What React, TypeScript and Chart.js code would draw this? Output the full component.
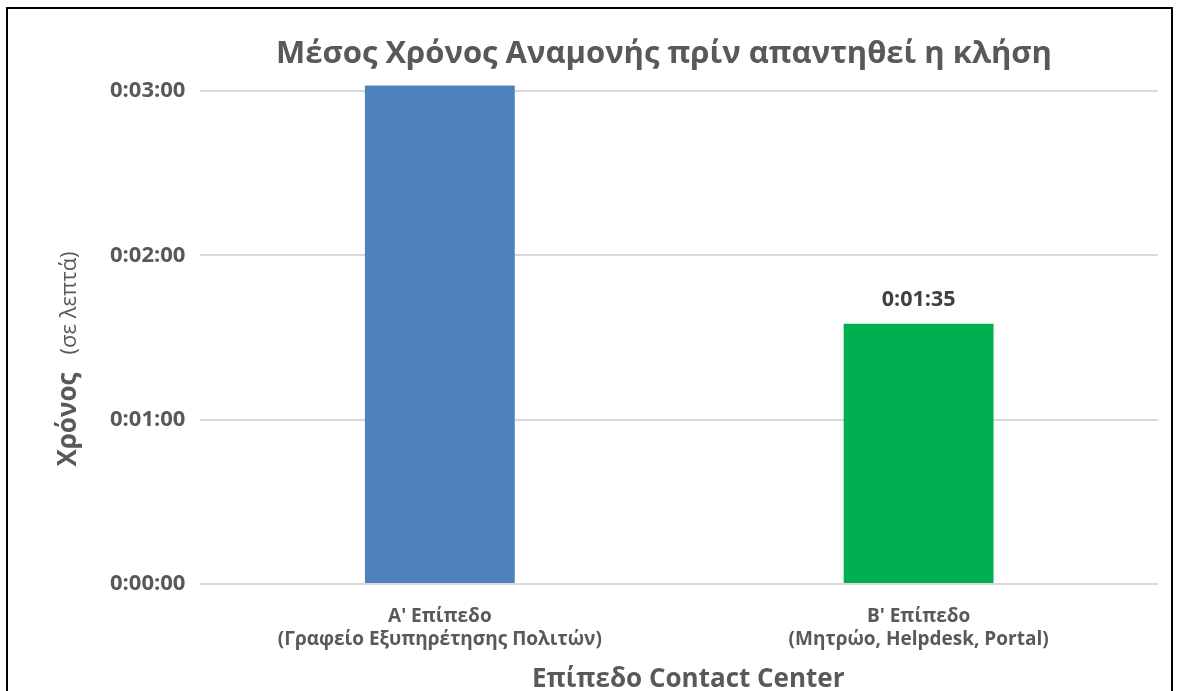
import React, { useEffect, useRef } from "react";
import { Chart, registerables } from "chart.js";

Chart.register(...registerables);

// ---- data ----
const categories: string[][] = [
  ["A' Επίπεδο", "(Γραφείο Εξυπηρέτησης Πολιτών)"],
  ["B' Επίπεδο", "(Μητρώο, Helpdesk, Portal)"],
];
const waitSeconds: number[] = [182, 95];
const barColors: string[] = ["#4F81BD", "#00B050"];
const yTickValues: number[] = [0, 60, 120, 180];
const chartTitle = "Μέσος Χρόνος Αναμονής πρίν απαντηθεί η κλήση";
const xAxisTitle = "Επίπεδο Contact Center";
const yAxisTitleMain = "Χρόνος";
const yAxisTitleSub = "(σε λεπτά)";

const FONT = "'Open Sans', sans-serif";
const TEXT = "#595959";

function fmt(sec: number): string {
  const h = Math.floor(sec / 3600);
  const m = Math.floor((sec % 3600) / 60);
  const s = Math.round(sec % 60);
  return `${h}:${String(m).padStart(2, "0")}:${String(s).padStart(2, "0")}`;
}

const decorPlugin = {
  id: "decor",
  beforeDraw(chart: any) {
    const ctx = chart.ctx;
    ctx.save();
    ctx.fillStyle = "#ffffff";
    ctx.fillRect(0, 0, chart.width, chart.height);
    ctx.restore();
  },
  afterDraw(chart: any) {
    const ctx = chart.ctx;
    const area = chart.chartArea;
    ctx.save();
    // border
    ctx.strokeStyle = "#000000";
    ctx.lineWidth = 2;
    ctx.strokeRect(7, 8, 1165, 720);
    // title
    ctx.fillStyle = TEXT;
    ctx.font = `bold 31px ${FONT}`;
    ctx.textAlign = "center";
    ctx.textBaseline = "alphabetic";
    ctx.fillText(chartTitle, 664, 63);
    // x axis title
    ctx.font = `bold 26px ${FONT}`;
    ctx.textBaseline = "alphabetic";
    ctx.fillText(xAxisTitle, (area.left + area.right) / 2 + 9, 687);
    // y title (rotated, mixed fonts)
    const mainFont = `bold 26px ${FONT}`;
    const subFont = `normal 22px ${FONT}`;
    ctx.font = mainFont;
    const w1 = ctx.measureText(yAxisTitleMain).width;
    ctx.font = subFont;
    const w2 = ctx.measureText(yAxisTitleSub).width;
    const gap = 18;
    const total = w1 + gap + w2;
    const cy = 359;
    ctx.translate(69, cy);
    ctx.rotate(-Math.PI / 2);
    ctx.textAlign = "left";
    ctx.textBaseline = "middle";
    ctx.font = mainFont;
    ctx.fillText(yAxisTitleMain, -total / 2, 0);
    ctx.font = subFont;
    ctx.fillText(yAxisTitleSub, -total / 2 + w1 + gap, 1);
    ctx.restore();
  },
  afterDatasetsDraw(chart: any) {
    const ctx = chart.ctx;
    const meta = chart.getDatasetMeta(0);
    const area = chart.chartArea;
    ctx.save();
    ctx.fillStyle = "#404040";
    ctx.font = `bold 21.5px ${FONT}`;
    ctx.textAlign = "center";
    ctx.textBaseline = "alphabetic";
    meta.data.forEach((bar: any, i: number) => {
      if (bar.y >= area.top) {
        ctx.fillText(fmt(waitSeconds[i]), bar.x, bar.y - 18);
      }
    });
    ctx.restore();
  },
};

export default function App() {
  const canvasRef = useRef<HTMLCanvasElement | null>(null);

  useEffect(() => {
    document.body.style.margin = "0";
    const canvas = canvasRef.current;
    if (!canvas) return;
    const chart = new Chart(canvas, {
      type: "bar",
      data: {
        labels: categories,
        datasets: [
          {
            data: waitSeconds,
            backgroundColor: barColors,
            borderWidth: 0,
            barPercentage: 0.313,
            categoryPercentage: 1,
            clip: false as any,
          },
        ],
      },
      options: {
        responsive: false,
        animation: false,
        events: [],
        layout: { padding: { top: 91, left: 95, right: 20, bottom: 18 } },
        plugins: {
          legend: { display: false },
          tooltip: { enabled: false },
          title: { display: false },
        },
        scales: {
          x: {
            grid: { display: false, drawTicks: false },
            border: { display: false },
            ticks: {
              color: TEXT,
              font: { family: FONT, size: 19, weight: "bold", lineHeight: 23 / 19 },
              padding: 21.5,
              maxRotation: 0,
              autoSkip: false,
            },
            title: { display: false },
          },
          y: {
            min: 0,
            max: 180,
            afterBuildTicks: (scale: any) => {
              scale.ticks = yTickValues.map((v) => ({ value: v }));
            },
            grid: { color: "#D9D9D9", lineWidth: 2, drawTicks: false },
            border: { display: false },
            ticks: {
              color: TEXT,
              font: { family: FONT, size: 22, weight: "bold" },
              padding: 15,
              callback: (v: any) => fmt(Number(v)),
            },
          },
        },
      },
      plugins: [decorPlugin],
    });
    return () => chart.destroy();
  }, []);

  return (
    <div style={{ position: "absolute", left: 0, top: 0, width: 1178, height: 691 }}>
      <canvas ref={canvasRef} width={1178} height={691} style={{ display: "block" }} />
    </div>
  );
}
